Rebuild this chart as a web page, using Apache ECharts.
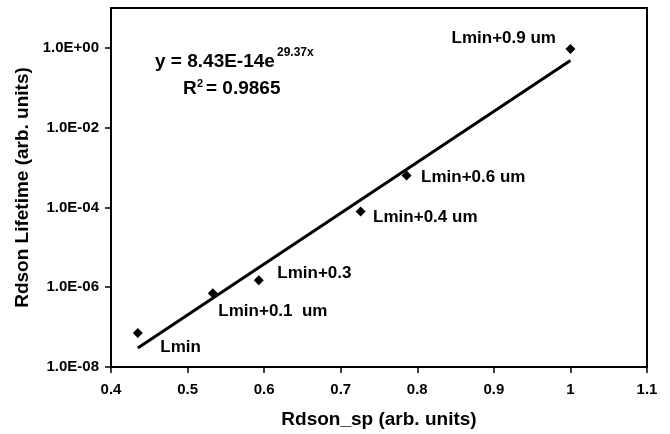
<!DOCTYPE html>
<html>
<head>
<meta charset="utf-8">
<script src="https://cdn.jsdelivr.net/npm/echarts@6/dist/echarts.min.js"></script>
<style>html,body{margin:0;padding:0;background:#fff}#c{width:670px;height:434px}</style>
</head>
<body>
<div id="c"></div>
<script>
// data
var pointNames = ['Lmin', 'Lmin+0.1  um', 'Lmin+0.3', 'Lmin+0.4 um', 'Lmin+0.6 um', 'Lmin+0.9 um'];
var rdsonSp = [0.435, 0.533, 0.593, 0.726, 0.786, 1.0];
var lifetime = [7.1e-8, 7.1e-7, 1.5e-6, 7.9e-5, 6.3e-4, 0.94];
var trendX = [0.435, 1.0];
var trendY = [3.0e-8, 0.48];
var yTickValues = [1e-8, 1e-6, 1e-4, 1e-2, 1];
var xTicks = [0.4, 0.5, 0.6, 0.7, 0.8, 0.9, 1.0, 1.1];

// label placement (styles, not data)
var labelPlace = [
  {pos: 'right', off: [17.5, 14]},
  {pos: 'right', off: [0.5, 18]},
  {pos: 'right', off: [13.5, -7]},
  {pos: 'right', off: [7.5, 6]},
  {pos: 'right', off: [9.5, 2]},
  {pos: 'left', off: [-9.5, -11]}
];

var FONT = "'Liberation Sans', Arial, sans-serif";

function fmtE(v) {
  var e = Math.round(Math.log10(v));
  var s = e < 0 ? '-' : '+';
  var a = Math.abs(e);
  return '1.0E' + s + (a < 10 ? '0' : '') + a;
}

var scatterData = rdsonSp.map(function (x, i) {
  return {
    value: [x, lifetime[i]],
    name: pointNames[i],
    label: {position: labelPlace[i].pos, offset: labelPlace[i].off}
  };
});
var trendData = trendX.map(function (x, i) { return [x, trendY[i]]; });

var chart = echarts.init(document.getElementById('c'), null, {renderer: 'canvas'});
chart.setOption({
  animation: false,
  backgroundColor: '#fff',
  grid: {left: 111, right: 23, top: 8, bottom: 67, show: true, borderColor: '#000', borderWidth: 2, containLabel: false},
  xAxis: {
    type: 'value', min: 0.4, max: 1.1, interval: 0.1,
    name: 'Rdson_sp (arb. units)', nameLocation: 'middle', nameGap: 43,
    nameTextStyle: {fontFamily: FONT, fontWeight: 'bold', fontSize: 19, color: '#000'},
    axisLine: {show: true, lineStyle: {color: '#000', width: 2}},
    axisTick: {show: true, inside: false, length: 6, lineStyle: {color: '#000', width: 1.5}},
    axisLabel: {fontFamily: FONT, fontWeight: 'bold', fontSize: 15, color: '#000', margin: 15,
      formatter: function (v) { return String(Math.round(v * 10) / 10); }},
    splitLine: {show: false}
  },
  yAxis: {
    type: 'log', logBase: 10, min: 1e-8, max: 10,
    name: 'Rdson Lifetime (arb. units)', nameLocation: 'middle', nameGap: 78,
    nameTextStyle: {fontFamily: FONT, fontWeight: 'bold', fontSize: 19, color: '#000'},
    axisLine: {show: true, lineStyle: {color: '#000', width: 2}},
    axisTick: {show: true, inside: false, length: 6, customValues: yTickValues, lineStyle: {color: '#000', width: 1.5}},
    axisLabel: {fontFamily: FONT, fontWeight: 'bold', fontSize: 15, color: '#000', margin: 12,
      customValues: yTickValues, formatter: function (v) { return fmtE(v); }},
    splitLine: {show: false},
    minorTick: {show: false}
  },
  series: [
    {
      type: 'line', data: trendData, symbol: 'none', silent: true,
      lineStyle: {color: '#000', width: 3}, z: 2
    },
    {
      type: 'scatter', data: scatterData, symbol: 'diamond', symbolSize: 10,
      itemStyle: {color: '#000', opacity: 1}, z: 3,
      label: {show: true, distance: 0, formatter: '{b}', fontFamily: FONT, fontWeight: 'bold', fontSize: 17, color: '#000', opacity: 1}
    }
  ],
  graphic: [
    {type: 'text', left: 155, top: 52, style: {text: 'y = 8.43E-14e', font: 'bold 19px ' + FONT, fill: '#000'}},
    {type: 'text', left: 277, top: 47, style: {text: '29.37x', font: 'bold 12px ' + FONT, fill: '#000'}},
    {type: 'text', left: 183, top: 79, style: {text: 'R', font: 'bold 19px ' + FONT, fill: '#000'}},
    {type: 'text', left: 197, top: 78, style: {text: '2', font: 'bold 11px ' + FONT, fill: '#000'}},
    {type: 'text', left: 206, top: 79, style: {text: '= 0.9865', font: 'bold 19px ' + FONT, fill: '#000'}}
  ]
});
</script>
</body>
</html>
